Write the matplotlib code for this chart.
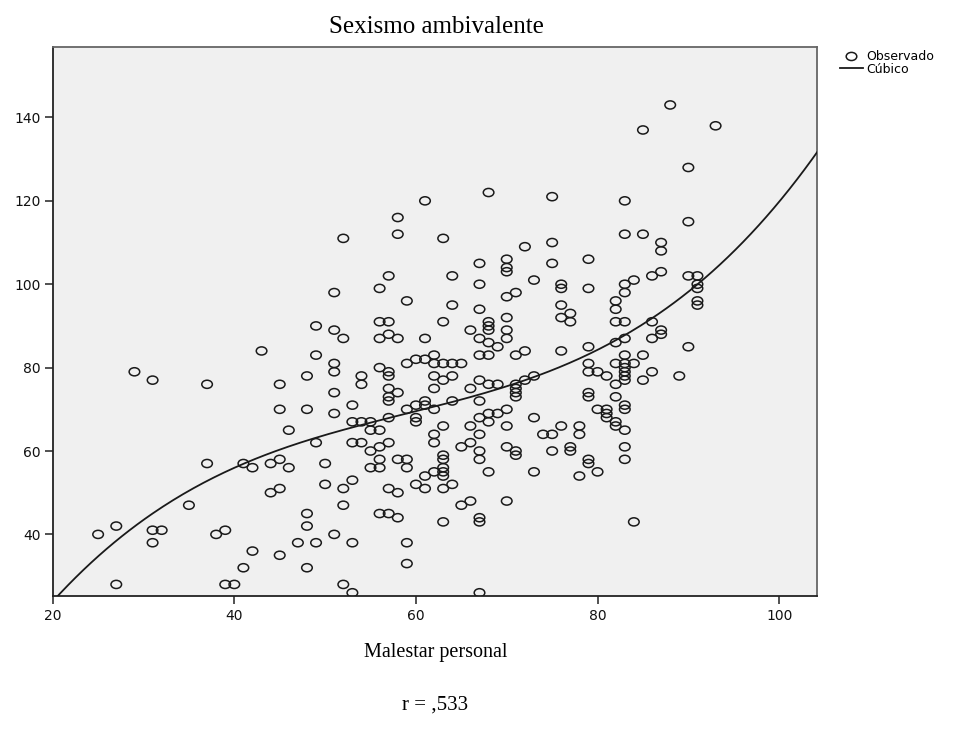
import numpy as np
import matplotlib.pyplot as plt
from matplotlib.path import Path
from matplotlib.transforms import Affine2D

# Malestar personal (x) y Sexismo ambivalente (y)
malestar = [
    88, 85, 93, 90, 83, 90, 83, 85, 87, 87, 68, 75, 61, 58, 58, 63, 52, 75, 72,
    79, 87, 86, 90, 91, 91, 91, 91, 91, 76, 76, 79, 83, 84, 83, 82, 82, 76, 77,
    77, 76, 82, 83, 86, 87, 87, 86, 83, 82, 90, 79, 76, 85, 83, 83, 79, 82, 84, 86,
    80, 79, 81, 83, 83, 83, 83, 82, 85, 89, 79, 79, 82, 80, 81, 81, 81, 83, 83,
    82, 82, 83, 76, 78, 78, 77, 77, 83, 83, 79, 79, 80, 78, 84,
    70, 70, 70, 67, 75, 57, 64, 67, 73, 70, 71, 59, 64, 67, 57, 63, 68, 68, 68,
    70, 66, 70, 70, 67, 68, 69, 57, 58, 61, 67, 68, 71, 72,
    59, 60, 61, 62, 62, 63, 64, 65,
    56, 51, 49, 51, 52, 56, 56, 43, 49, 51, 56, 57,
    51, 48, 45, 51, 54, 54, 57, 57, 57, 57, 58, 45, 48, 51, 53, 53, 54, 55, 55,
    56, 57, 46, 49, 53, 54, 55, 56, 57, 41, 42, 44, 45, 46, 50, 55, 56, 56, 58,
    44, 45, 50, 52, 53, 57, 58, 52, 56, 57, 58, 48, 48, 39, 38, 51, 47, 49, 53,
    62, 64, 63, 62, 66, 67, 68, 69, 71, 71, 71, 71, 72, 73, 59, 60, 61, 61, 62,
    60, 60, 64, 67, 67, 68, 68, 69, 70, 73, 63, 62, 62, 66, 67, 66, 65, 70, 67,
    67, 70, 71, 71, 74, 75, 75, 59, 59, 63, 63, 63, 63, 63, 62, 61, 60, 61, 63,
    64, 68, 73, 65, 66, 70, 63, 67, 67, 59,
    25, 27, 27, 29, 31, 37, 37, 35, 31, 31, 32, 39, 40, 41, 42, 45, 48, 52, 53,
    59, 67,
]
sexismo = [
    143, 137, 138, 128, 120, 115, 112, 112, 110, 108, 122, 121, 120, 116, 112, 111, 111, 110, 109,
    106, 103, 102, 102, 102, 100, 99, 96, 95, 100, 99, 99, 100, 101, 98, 96, 94, 95, 93,
    91, 92, 91, 91, 91, 89, 88, 87, 87, 86, 85, 85, 84, 83, 83, 81, 81, 81, 81, 79,
    79, 79, 78, 80, 79, 78, 77, 76, 77, 78, 74, 73, 73, 70, 70, 69, 68, 71, 70,
    67, 66, 65, 66, 66, 64, 61, 60, 61, 58, 58, 57, 55, 54, 43,
    106, 104, 103, 105, 105, 102, 102, 100, 101, 97, 98, 96, 95, 94, 91, 91, 91, 90, 89,
    92, 89, 89, 87, 87, 86, 85, 88, 87, 87, 83, 83, 83, 84,
    81, 82, 82, 83, 81, 81, 81, 81,
    99, 98, 90, 89, 87, 91, 87, 84, 83, 81, 80, 79,
    79, 78, 76, 74, 78, 76, 78, 75, 73, 72, 74, 70, 70, 69, 71, 67, 67, 67, 65,
    65, 68, 65, 62, 62, 62, 60, 61, 62, 57, 56, 57, 58, 56, 57, 56, 58, 56, 58,
    50, 51, 52, 51, 53, 51, 50, 47, 45, 45, 44, 45, 42, 41, 40, 40, 38, 38, 38,
    78, 78, 77, 75, 75, 77, 76, 76, 76, 75, 74, 73, 77, 78, 70, 71, 72, 71, 70,
    68, 67, 72, 72, 68, 69, 67, 69, 70, 68, 66, 64, 62, 66, 64, 62, 61, 66, 60,
    58, 61, 60, 59, 64, 64, 60, 58, 56, 59, 58, 56, 55, 54, 55, 54, 52, 51, 51,
    52, 55, 55, 47, 48, 48, 43, 44, 43, 38,
    40, 42, 28, 79, 77, 76, 57, 47, 38, 41, 41, 28, 28, 32, 36, 35, 32, 28, 26,
    33, 26,
]
xticks = [20, 40, 60, 80, 100]
yticks = [40, 60, 80, 100, 120, 140]

fig = plt.figure(figsize=(9.76, 7.46), dpi=100)
ax = fig.add_axes([0.054, 0.2015, 0.7834, 0.7355])
ax.set_facecolor('#f0f0f0')

# circulos algo achatados como en SPSS
elipse = Path.unit_circle().transformed(Affine2D().scale(1.0, 0.77))
ax.scatter(malestar, sexismo, s=58, marker=elipse, facecolors='none',
           edgecolors='#1a1a1a', linewidths=1.1, label='Observado', zorder=3)

# ajuste cubico
coef = np.polyfit(malestar, sexismo, 3)
xs = np.linspace(20, 104.2, 300)
ax.plot(xs, np.polyval(coef, xs), color='#1a1a1a', lw=1.3, label='Cúbico', zorder=4)

ax.set_xlim(20, 104.2)
ax.set_ylim(25.3, 156.9)
ax.set_xticks(xticks)
ax.set_yticks(yticks)
ax.tick_params(direction='out', length=5.5, width=1.1, color='#222222',
               labelsize=10, labelcolor='#111111')
ax.tick_params(axis='x', pad=4)
ax.tick_params(axis='y', pad=3)
for side in ['left', 'bottom']:
    ax.spines[side].set_color('#222222')
    ax.spines[side].set_linewidth(1.3)
for side in ['top', 'right']:
    ax.spines[side].set_color('#666666')
    ax.spines[side].set_linewidth(1.3)

ax.legend(loc='upper left', bbox_to_anchor=(1.03, 0.995), frameon=False,
          fontsize=9, handlelength=1.8, handletextpad=0.3, labelspacing=0.0,
          borderaxespad=0, borderpad=0)

fig.text(0.447, 0.9638, 'Sexismo ambivalente', ha='center', va='center',
         family='Liberation Serif', fontsize=18)
fig.text(0.446, 0.126, 'Malestar personal', ha='center', va='center',
         family='Liberation Serif', fontsize=14.5)
fig.text(0.446, 0.055, 'r = ,533', ha='center', va='center',
         family='Liberation Serif', fontsize=15)

fig.savefig('out.png', dpi=100)
